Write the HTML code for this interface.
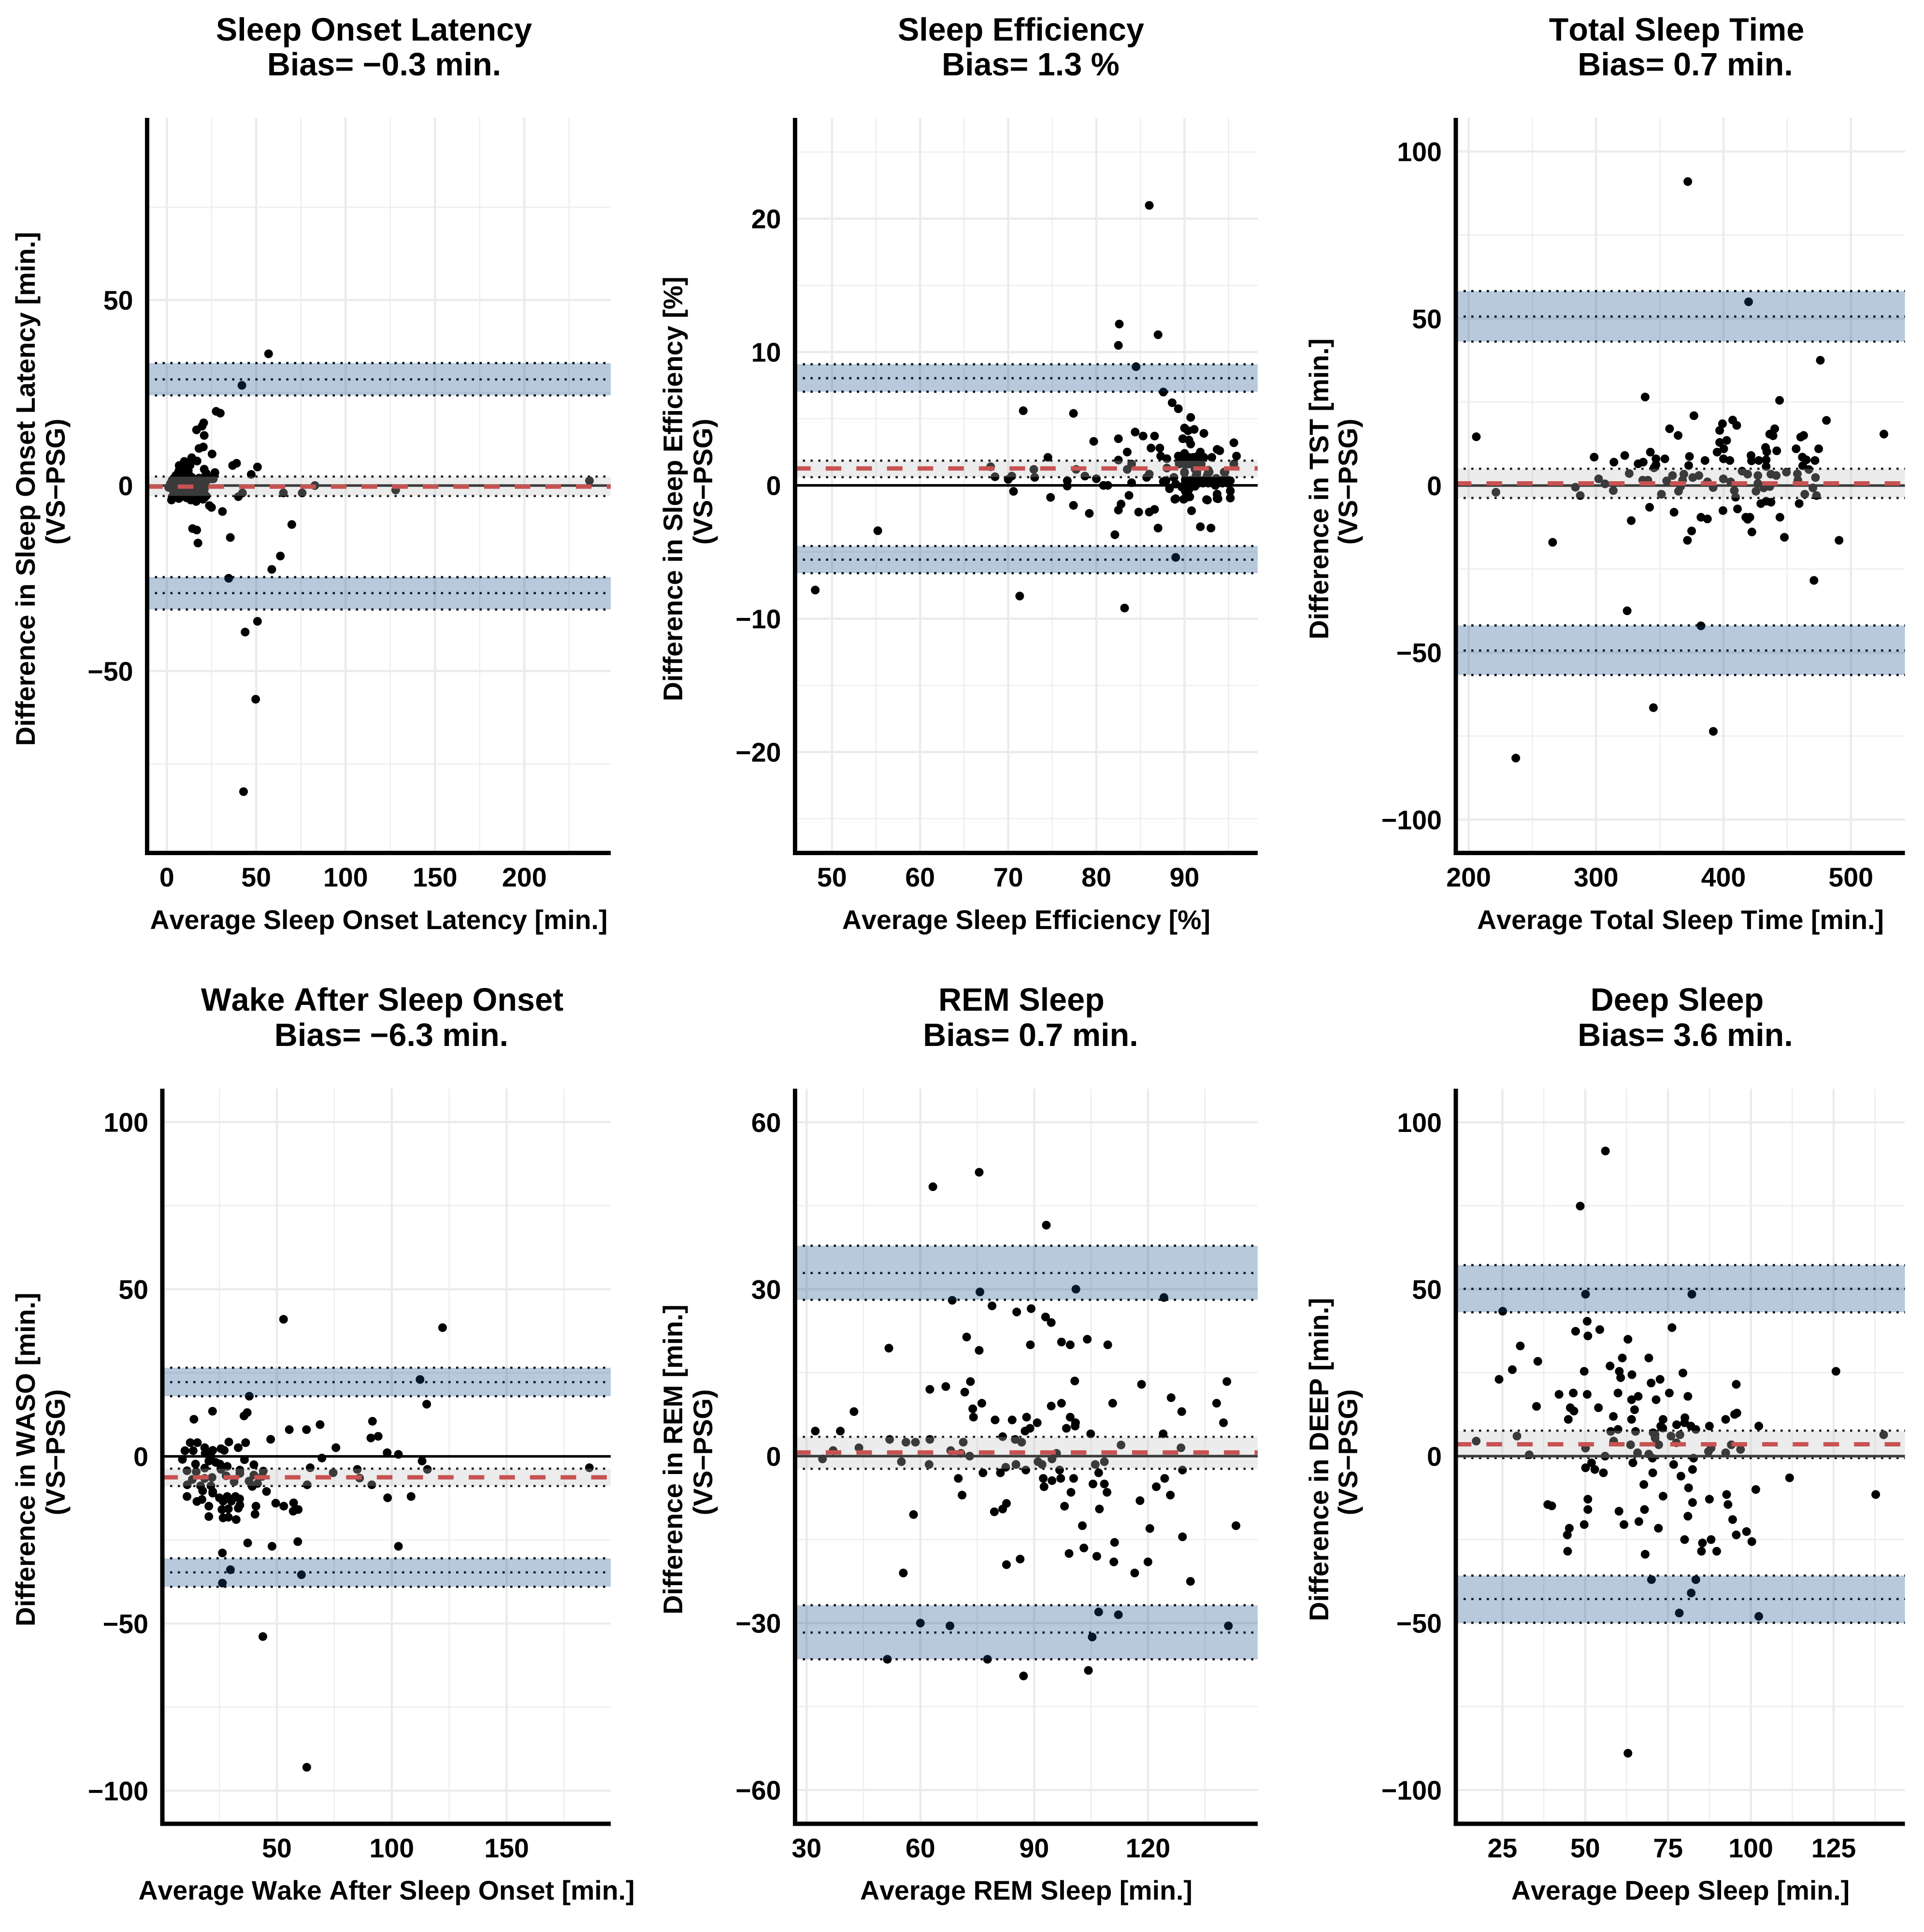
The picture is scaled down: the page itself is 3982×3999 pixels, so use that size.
<!DOCTYPE html>
<html lang="en">
<head>
<meta charset="utf-8">
<title>Bland-Altman sleep metric panels</title>
<style>
html,body{margin:0;padding:0;background:#fff;}
svg{display:block;}
text{font-family:"Liberation Sans",Arial,sans-serif;font-weight:bold;fill:#000;font-kerning:none;}
.ttl{font-size:66.5px;text-anchor:middle;}
.axt{font-size:55.5px;text-anchor:middle;}
.tick{font-size:55.5px;}
</style>
</head>
<body>
<svg id="figure" xmlns="http://www.w3.org/2000/svg" width="3982" height="3999" viewBox="0 0 3982 3999">
<rect x="0" y="0" width="3982" height="3999" fill="#fff"/>

<g>
<text class="ttl" x="774" y="84">Sleep Onset Latency</text>
<text class="ttl" x="795" y="156">Bias= −0.3 min.</text>
<text class="axt" transform="translate(72,1012) rotate(-90)">Difference in Sleep Onset Latency [min.]</text>
<text class="axt" transform="translate(134,997) rotate(-90)">(VS−PSG)</text>
<text class="axt" x="784" y="1923">Average Sleep Onset Latency [min.]</text>
<g id="plot-sol"></g>
</g>

<g>
<text class="ttl" x="2113" y="84">Sleep Efficiency</text>
<text class="ttl" x="2133" y="156">Bias= 1.3 %</text>
<text class="axt" transform="translate(1412,1012) rotate(-90)">Difference in Sleep Efficiency [%]</text>
<text class="axt" transform="translate(1474,997) rotate(-90)">(VS−PSG)</text>
<text class="axt" x="2124" y="1923">Average Sleep Efficiency [%]</text>
<g id="plot-se"></g>
</g>

<g>
<text class="ttl" x="3470" y="84">Total Sleep Time</text>
<text class="ttl" x="3488" y="156">Bias= 0.7 min.</text>
<text class="axt" transform="translate(2749,1012) rotate(-90)">Difference in TST [min.]</text>
<text class="axt" transform="translate(2809,997) rotate(-90)">(VS−PSG)</text>
<text class="axt" x="3478" y="1923">Average Total Sleep Time [min.]</text>
<g id="plot-tst"></g>
</g>

<g>
<text class="ttl" x="791" y="2092">Wake After Sleep Onset</text>
<text class="ttl" x="810" y="2165">Bias= −6.3 min.</text>
<text class="axt" transform="translate(72,3021) rotate(-90)">Difference in WASO [min.]</text>
<text class="axt" transform="translate(134,3006) rotate(-90)">(VS−PSG)</text>
<text class="axt" x="800" y="3932">Average Wake After Sleep Onset [min.]</text>
<g id="plot-waso"></g>
</g>

<g>
<text class="ttl" x="2114" y="2092">REM Sleep</text>
<text class="ttl" x="2133" y="2165">Bias= 0.7 min.</text>
<text class="axt" transform="translate(1412,3021) rotate(-90)">Difference in REM [min.]</text>
<text class="axt" transform="translate(1474,3006) rotate(-90)">(VS−PSG)</text>
<text class="axt" x="2124" y="3932">Average REM Sleep [min.]</text>
<g id="plot-rem"></g>
</g>

<g>
<text class="ttl" x="3471" y="2092">Deep Sleep</text>
<text class="ttl" x="3488" y="2165">Bias= 3.6 min.</text>
<text class="axt" transform="translate(2749,3021) rotate(-90)">Difference in DEEP [min.]</text>
<text class="axt" transform="translate(2809,3006) rotate(-90)">(VS−PSG)</text>
<text class="axt" x="3478" y="3932">Average Deep Sleep [min.]</text>
<g id="plot-deep"></g>
</g>
</svg>

<script>
// ---------- Sleep Onset Latency ----------
const solX = [56.9,42,27.6,29.9,20.6,19.7,16.6,20.9,20.4,18,25.3,13.9,16.9,9.8,6.9,6.4,9.4,11.2,20.9,22,26.9,36.8,39,50.7,47.2,
2,1,3,3,4,4,5,5,6,6,7,7,8,8,9,9,10,10,11,12,12,13,13,14,15,15,16,17,17,18,19,19,20,21,22,22,24,25,26,21,14,3,8,11,15,18,
8,10,12,5,7,12.5,11,13,4,14,17,19,21,
2.6,6.7,13.4,16.4,20.2,23.8,25,31.1,42.3,40,65.2,75.7,82.8,128,236.4,14.4,16.7,17.4,35.5,69.9,63.5,58.7,34.6,50.7,43.8,49.7,42.9];
const solY = [35.5,27,20,19.5,16.9,16,15,13.5,10.4,10,8.5,7.5,6.6,6.5,5.4,3.5,5,4.6,4.4,3.3,3.5,5.4,6,5,3,
0.5,-0.5,1.5,-1,2,-2,0,1,-1.5,2,0.5,-2.5,1.5,-0.5,2.2,-1.5,0,1,-2.5,0.8,-1,2,-2,0,1.5,-1,-2.5,0.5,-1.8,2,0,-2.5,1,-1,-2.8,1.2,2,1.8,1.8,2.2,2.2,-3,-3,-3.3,-3.3,-3.3,
3.5,3,4,2.7,4.3,2.8,5.5,5.5,-3.2,-3.5,-3.6,-3.2,-3.3,
-3.9,-3.5,-3.9,-4.3,-3.7,-5.4,-5.9,-7,-2,-3,-2,-2,0,-1.2,1.3,-11.6,-12,-15.5,-14,-10.5,-19,-22.6,-25,-36.6,-39.5,-57.6,-82.5];
const solXMajor = [0,50,100,150,200];
const solXMinor = [25,75,125,175,225];
const solYMajor = [-50,0,50];
const solYMinor = [-75,-25,25,75];
const solUpperLoA = [33,28.6,24.3];
const solLowerLoA = [-24.7,-29,-33.4];
const solBiasBand = [2.4,-0.3,-2.8];

// ---------- Sleep Efficiency ----------
const seX = [86,82.6,87,82.5,84.5,87.6,88.6,89.3,71.7,77.4,90.7,90,90.4,91.1,92.2,84.4,85.3,86.6,82.5,89.8,90.5,90.7,79.7,95.6,87.2,86.2,93.7,94,83.5,91.8,74.5,95.9,93.1,89.3,90,91,91.5,87.3,88,82.5,68,84,72.9,77.7,83.5,88,95.6,94.6,90,91.2,92.8,89.4,90.4,91.6,68.5,70.4,70,73,78.7,80,86,85.7,76.7,76.7,70.6,74.8,80.8,81.3,84,83.7,77.4,82.8,82.5,79.2,84.8,86,86.6,90.8,89,90,90.5,92.6,93.8,93.7,95.2,95.2,88.3,87,91.8,93,82.1,55.2,89,48.1,71.3,83.2,87.8,88.8,89,90.1,91.3,91.8,92.8,93.7,94.6,95,90.8,92.3,89.7,91,90.1,93.5,92.6,91.4,
90.1,90.6,91,91.5,92,92.4,92.9,93.3,93.8,94.2,94.7,95.2,
90.5,91,91.6,92.1,92.7,93.2,93.8,94.3,94.9,
89.7,90.5,91.2,90.3,90.6,95.2,93.7,93.7,95.2,92.5,88.9,89.9,88.3,
89.4,89.9,90.5,91,91.6,92.2,
89.4,90,90.7,91.3,91.9,
92.7,91.4,90,94.5,95.6,93.6,94.9,88.8,87.9,87.6];
const seY = [21,12.1,11.3,10.5,8.9,7,6.2,5.75,5.6,5.4,5.1,4.3,4.1,4.2,3.9,4,3.7,3.7,3.5,3.5,3.4,3.1,3.3,3.2,2.8,2.8,2.7,2.6,2.5,2.5,2.1,2.2,2.1,2.2,2.4,2.1,2.2,2.2,2,1.9,1.4,1.6,1.2,1.2,1.2,1.3,1.6,1,1,1.2,1,1.7,1.6,1.7,0.65,0.7,0.45,0.6,0.7,0.5,0.85,0.6,0.35,-0.05,-0.45,-0.9,0,0,0.2,-0.75,-1.5,-1.4,-1.85,-2.1,-2,-2,-1.8,-1.9,-1,-1,-0.85,-1.1,-1,-0.65,-0.95,-0.4,-0.25,-3.2,-3.1,-3.2,-3.7,-3.4,-5.4,-7.85,-8.3,-9.2,0.35,0.6,0.1,0.45,0.7,0.2,0.35,0.2,0.45,0.2,0.1,0.45,-0.1,0,-0.45,0,0.8,1,
0.35,0.35,0.35,0.35,0.35,0.35,0.35,0.35,0.35,0.35,0.35,0.35,
0.17,0.17,0.17,0.17,0.17,0.17,0.17,0.17,0.17,
-0.13,-0.31,-0.07,-0.8,-0.86,-0.43,-0.68,-0.98,-0.94,-1.07,-1.04,-1.04,-0.19,
2.1,2.1,2.1,2.1,2.1,2.1,
1.6,1.6,1.6,1.6,1.6,
1.14,0.83,0.95,1,1.6,0.53,0.41,0.59,0.35,0.29];
const seXMajor = [50,60,70,80,90];
const seXMinor = [55,65,75,85,95];
const seYMajor = [-20,-10,0,10,20];
const seYMinor = [-25,-15,-5,5,15,25];
const seUpperLoA = [9.08,8.04,7.03];
const seLowerLoA = [-4.55,-5.57,-6.58];
const seBiasBand = [1.85,1.27,0.62];

// ---------- Total Sleep Time ----------
const tstX = [372,237,345,392,419.7,476,338.5,444,376.8,407.2,410.4,480.8,399.2,357.7,397,440.2,525.9,206,364.4,436.3,438.9,462.9,460.6,397,402.5,400.2,433,457,474.7,441.8,434,395,342.6,322.5,373.3,298.5,421.6,461.9,347,354,400,405,385.5,314,337,333,422,427.7,433.5,465,471.8,372.7,347,345.5,433.5,462.2,414.6,419,449.4,326,360,368.9,458,427,437.2,441.4,380.7,375.9,472.2,467,302,399.9,336.6,340.7,355.4,367.9,387.4,405.6,427,458.4,307,283.8,391.9,366.3,431.6,436.4,470.2,408.5,313.5,364.7,425.5,221.4,287.6,351.3,463.8,473,409.5,433.5,437.3,429.3,459.4,342,411,399.6,361.2,444.3,382.3,387.4,417.5,420.7,419,327.6,375,422.3,447.8,371.7,490.7,265.9,471,324.4,382.3];
const tstY = [91,-81.6,-66.5,-73.6,55,37.5,26.5,25.5,20.9,19.6,18,19.5,18.5,17,16.5,17,15.4,14.6,15,15.4,14.9,15,14.5,12.9,13.5,11,11.4,11,11,10.4,10.1,10,10,9,8.7,8.5,9,8.5,8,8,8,7.5,7.5,7,7,6.5,7.4,7.5,7.7,7.7,7.5,6,6.2,5.3,5.7,5.9,4.3,3.4,4,3.6,3,3.4,3.5,3,3.4,3,3,2.4,2.4,4.8,2,2,1.6,1.6,1.4,1.6,1.1,1.1,0.6,1.6,0.5,-0.5,-0.6,-0.3,-0.7,-0.3,-0.7,-1.5,-1.5,-1.7,-1.7,-2,-3,-2.6,-2.6,-3,-3.5,-4.7,-5,-5.4,-5.4,-6.5,-7,-7.5,-8,-9.5,-9.5,-10,-9.5,-9.5,-10.1,-10.5,-13.6,-13.9,-15.5,-16.4,-16.4,-17,-28.4,-37.5,-42];
const tstXMajor = [200,300,400,500];
const tstXMinor = [250,350,450];
const tstYMajor = [-100,-50,0,50,100];
const tstYMinor = [-75,-25,25,75];
const tstUpperLoA = [58.2,50.6,43.1];
const tstLowerLoA = [-41.9,-49.4,-56.7];
const tstBiasBand = [5,0.65,-3.7];

// ---------- Wake After Sleep Onset ----------
const wasoX = [52.9,122.1,112.3,38,115.2,22,37.1,35.7,13.9,91.6,68.8,55.4,62.9,94.1,90.9,47.3,29.1,36.4,12.3,15.4,18.6,33.2,75.7,25.7,22.1,10,27.1,13.6,98,102.9,18.8,21.3,69.6,8.9,20.4,35.9,113.2,23.4,14.6,25.2,40,28.4,64.5,115.5,186,85,18.6,33.9,10.9,44.1,74.5,25.7,14.9,33.9,27.9,40,86,21.8,13.2,43.6,18.6,37.9,31.4,41.6,63.2,91.3,11,39.3,16.8,21.3,17.7,22.1,45.5,10.9,17.4,15.2,22.1,108.4,98.2,25,28.4,32,33.8,26.6,30.2,49.5,33.9,57.3,53,40.9,20.4,33.2,28.9,59.3,57.1,26.1,40.5,20.4,26.6,28.9,32.3,37.3,47.9,59.1,102.9,26.3,29.8,60.7,26.3,43.9,63];
const wasoY = [41,38.5,23,18,15.6,13.5,13.1,12.1,11.1,10.5,9.5,8,8,6,5.5,5.1,4.3,4.1,4.1,4.1,2.6,2.6,2.6,2.3,1.8,1.7,1.8,1.7,1.1,0.6,0.9,0,-0.5,-0.9,-1.4,-1,-1.4,-1.8,-2.3,-2.3,-2.5,-3,-3.4,-3.9,-3.4,-3.9,-3.5,-4.1,-4.3,-4.4,-4.9,-3.9,-4.6,-5.1,-5.8,-5.6,-6.5,-6.3,-6.9,-6,-6.6,-7.4,-7.6,-8.1,-8.5,-8.5,-8.5,-9,-8.8,-8.8,-10.3,-10.6,-10.5,-12,-12.9,-13.5,-11,-12,-12.4,-12.4,-12,-12,-12.7,-13.4,-13.4,-14,-14.6,-13.9,-14.9,-14.9,-14.9,-15.5,-15.7,-15.9,-16.4,-15.9,-17.3,-18,-18.4,-18.2,-18.9,-25.9,-26.9,-25.5,-26.9,-28.9,-33.9,-35.4,-37.9,-53.9,-93];
const wasoXMajor = [50,100,150];
const wasoXMinor = [25,75,125,175];
const wasoYMajor = [-100,-50,0,50,100];
const wasoYMinor = [-75,-25,25,75];
const wasoUpperLoA = [26.5,22.2,18];
const wasoLowerLoA = [-30.5,-34.7,-39];
const wasoBiasBand = [-3.7,-6.27,-8.85];

// ---------- REM Sleep ----------
const remX = [75.5,63.3,93.2,75.7,101,124.2,68.4,78.9,85.4,89.2,93,94.5,72.2,51.7,75.5,89,97.2,99.5,104,109.4,100.7,73.2,118.3,140.8,66.7,62.5,71.7,126.1,76.2,94.5,97.2,110.7,138.1,73.8,42.5,128.9,74,88,99.5,79.7,84.2,90.8,100.9,139.9,100.8,98.5,88.9,87.6,32.3,38.9,104.9,124,81.7,51.9,85,62.5,56.2,58.7,71.3,86.7,112.9,43.8,128.7,37,68,70.7,95.9,73,34.2,94.7,55,91,108.5,92.1,62.3,85.2,106.1,82.5,96.7,87.8,129.1,76.5,81.1,107,70,92.4,97,100.4,124.4,94.7,105.5,108.5,92.6,122.2,99.7,109.2,71,125.9,117.9,82.7,98,81.7,107.2,79.5,58.2,102.7,143.2,120.5,129.1,111.2,103.1,99.2,106.5,86.3,111,120,82.7,55.5,116.5,131.2,107,112.2,60,67.8,141.2,105.3,51.3,77.7,104.3,87.2];
const remY = [51,48.4,41.5,29.5,30,28.5,28,27,25.9,26.5,25,24,21.4,19.4,19,20,20.5,20,21,20,13.5,13.4,12.9,13.4,12.5,12,11.5,10.5,9.5,9,9.5,9.5,9.5,8.5,8,8,7,7,7,6.5,6.5,6,6,6,5.4,5,5,4.5,4.5,4.5,4,4,3.5,3,3,3,2.5,2.5,2.5,2.5,2,1.5,1.5,1,1,0.5,0.5,0,-0.5,-0.5,-1,-1,-1,-1.5,-1.5,-1.5,-1.5,-2,-2.5,-2.5,-2.5,-3,-3,-3,-4,-4,-4,-4,-4,-4.4,-5,-5,-5.5,-5.5,-6.5,-6.5,-7,-7,-8,-8.5,-9,-9.5,-9.5,-10,-10.5,-12.5,-12.5,-13,-14.5,-15.5,-16.5,-17.5,-18,-18.5,-19,-19,-19.5,-21,-21,-22.5,-28,-28.5,-30,-30.5,-30.5,-32.5,-36.5,-36.5,-38.5,-39.5];
const remXMajor = [30,60,90,120];
const remXMinor = [45,75,105,135];
const remYMajor = [-60,-30,0,30,60];
const remYMinor = [-45,-15,15,45];
const remUpperLoA = [37.8,32.9,28.1];
const remLowerLoA = [-26.8,-31.7,-36.5];
const remBiasBand = [3.45,0.66,-2.26];

// ---------- Deep Sleep ----------
const deepX = [56.1,48.5,50.1,82.2,25.1,50.6,76.2,54.4,47.1,50.8,62.9,30.4,61.2,69.2,35.7,57.5,28,49.7,60.3,64.1,79.5,60.7,72.6,24,69.9,95.6,75.4,46.4,42.1,50.6,59.9,66,81,64,71.4,35.3,45.5,54,64.9,46.6,95.8,95.1,58.5,80.1,44.9,64,73.5,92.4,80,77.6,81.9,87.5,102.4,72.8,73.4,83.4,59.9,57.7,65.2,70.5,140.1,71.1,78.6,29.4,75.9,71.1,17.1,58.6,77.5,94.1,63.7,72.2,50.1,96.9,88,87.2,65.8,92.4,69.2,33.1,56,70.3,82.7,51.9,64.4,76.7,50.1,52.9,82.4,55.5,70.4,78.9,111.7,67.7,81.2,101.5,92.7,137.7,73.5,50.8,87.5,82.4,38.7,39.9,93.1,50.8,67.9,60.2,81,94.5,66.2,49.7,61.7,45.2,72.1,98.7,44.6,95.6,80,88,100.3,85.4,44.7,85.1,89.7,68.1,70,83.4,82,78.4,102.4,125.7,62.9];
const deepY = [91.4,74.9,48.5,48.5,43.4,40.4,38.5,37.9,37.4,36,35,33,29.4,29.4,28.4,27,25.9,25.4,25.4,24.4,24.9,23.5,23,23,21.9,21.5,18.9,18.9,18.5,18.5,18.9,17.9,17.9,16.9,16.9,14.9,14.5,14.5,13.9,13.5,12.9,12.5,11.9,11.5,11,11,11,11,10,9.4,9,9,9,9,8.4,8,8,7.4,7.4,7,6.4,6.4,6.4,6,6,5.4,4.5,4.5,4,3.4,3.4,3.4,2.4,2,2.4,1.4,1,1,0.6,0.4,0,-0.6,-0.6,-2,-2,-2.5,-3.5,-4,-4,-5,-5,-6,-6.5,-8.5,-9.5,-10,-11.5,-11.5,-12,-12.9,-12.9,-13.9,-14.5,-14.9,-14.5,-16,-16,-16.5,-18,-19,-19.6,-20.5,-20.5,-21.6,-21.6,-22.6,-23.6,-23.6,-25,-25,-25.6,-26,-28.5,-28.5,-28.5,-29.4,-37,-37,-41,-47,-48,25.4,-89];
const deepXMajor = [25,50,75,100,125];
const deepXMinor = [37.5,62.5,87.5,112.5,137.5];
const deepYMajor = [-100,-50,0,50,100];
const deepYMinor = [-75,-25,25,75];
const deepUpperLoA = [57.2,50.1,43.1];
const deepLowerLoA = [-35.8,-42.8,-49.9];
const deepBiasBand = [7.6,3.54,-0.55];

// ---------- Drawing ----------
const SVG_NS = 'http://www.w3.org/2000/svg';

function shape(tag, parent, attrs) {
  const el = document.createElementNS(SVG_NS, tag);
  for (const k in attrs) el.setAttribute(k, attrs[k]);
  parent.appendChild(el);
  return el;
}

function tickText(v) {
  return String(v).replace('-', '\u2212');
}

function drawPanel(id, frame, xs, ys, xMajor, xMinor, yMajor, yMinor, upper, lower, bias) {
  const root = document.getElementById(id);
  const sx = v => frame.xPx + (v - frame.xRef) * frame.xK;
  const sy = v => frame.yPx - v * frame.yK;
  const L = frame.left, R = frame.right, T = frame.top, B = frame.bottom;

  xMinor.forEach(v => {
    const el = shape('line', root, {x1: sx(v), x2: sx(v), y1: T, y2: B, stroke: '#ededed', 'stroke-width': 2.4});
    
    
  });
  yMinor.forEach(v => {
    const el = shape('line', root, {x1: L, x2: R, y1: sy(v), y2: sy(v), stroke: '#ededed', 'stroke-width': 2.4});
    
    
  });
  xMajor.forEach(v => {
    const el = shape('line', root, {x1: sx(v), x2: sx(v), y1: T, y2: B, stroke: '#ebebeb', 'stroke-width': 4.6});
    
    
  });
  yMajor.forEach(v => {
    const el = shape('line', root, {x1: L, x2: R, y1: sy(v), y2: sy(v), stroke: '#ebebeb', 'stroke-width': 4.6});
    
    
  });

  const zero = shape('line', root, {x1: L, x2: R, y1: sy(0), y2: sy(0), stroke: '#000', 'stroke-width': 5.3});
  
  

  xs.forEach((v, i) => {
    const dot = shape('circle', root, {cx: sx(v), cy: sy(ys[i]), r: 9, fill: '#000'});
    
    
  });

  [upper, lower, bias].forEach(group => {
    group.forEach((v, i) => {
      if (group === bias && i === 1) return;
      const dotted = shape('line', root, {x1: L, x2: R, y1: sy(v), y2: sy(v), stroke: '#000', 'stroke-width': 4.6, 'stroke-dasharray': '4.6 11.4'});
      
      
    });
  });

  [upper, lower].forEach(group => {
    const band = shape('rect', root, {x: L, width: R - L, y: sy(group[0]), height: sy(group[2]) - sy(group[0]), fill: 'rgb(15,75,135)', 'fill-opacity': 0.3});
    
    
  });
  const biasBand = shape('rect', root, {x: L, width: R - L, y: sy(bias[0]), height: sy(bias[2]) - sy(bias[0]), fill: '#c1c1c1', 'fill-opacity': 0.3});
  
  

  const biasLine = shape('line', root, {x1: L, x2: R, y1: sy(bias[1]), y2: sy(bias[1]), stroke: '#c85252', 'stroke-width': 9, 'stroke-dasharray': '32.3 31.1'});
  
  

  const yAxis = shape('line', root, {x1: L, x2: L, y1: T, y2: B + 4.5, stroke: '#000', 'stroke-width': 9});
  
  
  const xAxis = shape('line', root, {x1: L - 4.5, x2: R, y1: B, y2: B, stroke: '#000', 'stroke-width': 9});
  
  

  xMajor.forEach(v => {
    const t = shape('text', root, {class: 'tick', x: sx(v), y: B + 69.5, 'text-anchor': 'middle'});
    t.textContent = tickText(v);
    
    
  });
  yMajor.forEach(v => {
    const t = shape('text', root, {class: 'tick', x: L - 29, y: sy(v) + 20, 'text-anchor': 'end'});
    t.textContent = tickText(v);
    
    
  });
}

drawPanel('plot-sol', {left: 304.5, right: 1264, top: 244, bottom: 1765.5, xRef: 0, xPx: 345.3, xK: 3.7, yPx: 1005, yK: 7.68},
  solX, solY, solXMajor, solXMinor, solYMajor, solYMinor, solUpperLoA, solLowerLoA, solBiasBand);
drawPanel('plot-se', {left: 1645.5, right: 2603, top: 244, bottom: 1765.5, xRef: 50, xPx: 1721.9, xK: 18.24, yPx: 1004.7, yK: 27.6},
  seX, seY, seXMajor, seXMinor, seYMajor, seYMinor, seUpperLoA, seLowerLoA, seBiasBand);
drawPanel('plot-tst', {left: 3013, right: 3942.5, top: 244, bottom: 1765.5, xRef: 200, xPx: 3039.6, xK: 2.637, yPx: 1005, yK: 6.914},
  tstX, tstY, tstXMajor, tstXMinor, tstYMajor, tstYMinor, tstUpperLoA, tstLowerLoA, tstBiasBand);
drawPanel('plot-waso', {left: 336, right: 1264, top: 2253.5, bottom: 3775, xRef: 50, xPx: 573, xK: 4.756, yPx: 3014.5, yK: 6.92},
  wasoX, wasoY, wasoXMajor, wasoXMinor, wasoYMajor, wasoYMinor, wasoUpperLoA, wasoLowerLoA, wasoBiasBand);
drawPanel('plot-rem', {left: 1645.5, right: 2603, top: 2253.5, bottom: 3775, xRef: 30, xPx: 1669.3, xK: 7.851, yPx: 3014, yK: 11.52},
  remX, remY, remXMajor, remXMinor, remYMajor, remYMinor, remUpperLoA, remLowerLoA, remBiasBand);
drawPanel('plot-deep', {left: 3013, right: 3942.5, top: 2253.5, bottom: 3775, xRef: 25, xPx: 3109.4, xK: 6.856, yPx: 3014, yK: 6.91},
  deepX, deepY, deepXMajor, deepXMinor, deepYMajor, deepYMinor, deepUpperLoA, deepLowerLoA, deepBiasBand);
</script>
</body>
</html>
